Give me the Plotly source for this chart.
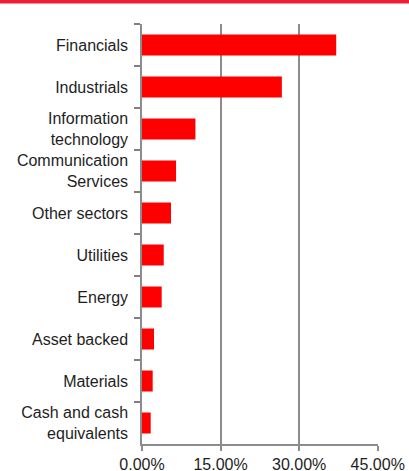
import plotly.graph_objects as go

categories = [
    "Financials",
    "Industrials",
    "Information<br>technology",
    "Communication<br>Services",
    "Other sectors",
    "Utilities",
    "Energy",
    "Asset backed",
    "Materials",
    "Cash and cash<br>equivalents",
]
weights = [0.3707, 0.2670, 0.1020, 0.0650, 0.0554, 0.0415, 0.0376, 0.0229, 0.0204, 0.0166]
x_ticks = [0, 0.15, 0.30, 0.45]

GRAY = "#8c8c8c"
FONT = "Liberation Sans, Arial, sans-serif"

fig = go.Figure(
    go.Bar(
        x=weights,
        y=categories,
        orientation="h",
        marker=dict(color="#ff0000", line=dict(width=0)),
        hoverinfo="x+y",
    )
)

fig.update_layout(
    width=409,
    height=471,
    margin=dict(l=142, r=31, t=24, b=27, pad=0),
    paper_bgcolor="white",
    plot_bgcolor="white",
    bargap=0.5,
    showlegend=False,
    font=dict(family=FONT, size=16, color="#1e1e1e"),
    shapes=[
        dict(
            type="rect",
            xref="paper", yref="paper",
            xsizemode="pixel", ysizemode="pixel",
            xanchor=0, yanchor=1,
            x0=-142, x1=267, y0=20.5, y1=24.5,
            fillcolor="#ee1d36", line=dict(width=0), layer="above",
        )
    ],
)

fig.update_xaxes(
    range=[0, 0.4505],
    tickvals=x_ticks,
    tickformat=".2%",
    showgrid=True,
    gridcolor=GRAY,
    gridwidth=1.5,
    zeroline=False,
    showline=True,
    linecolor=GRAY,
    linewidth=1.5,
    ticks="outside",
    ticklen=5,
    tickwidth=1.5,
    tickcolor=GRAY,
    automargin=False,
    fixedrange=True,
)

fig.update_yaxes(
    type="category",
    autorange="reversed",
    showgrid=False,
    zeroline=False,
    showline=True,
    linecolor=GRAY,
    linewidth=1.5,
    ticks="outside",
    tickson="boundaries",
    ticklen=6,
    tickwidth=1.5,
    tickcolor="#7f7f7f",
    ticklabelstandoff=9,
    automargin=False,
    fixedrange=True,
)

fig.write_html(
    "out.html",
    config={"displayModeBar": False},
    post_script="document.body.style.margin='0';document.body.style.overflow='hidden';",
)
